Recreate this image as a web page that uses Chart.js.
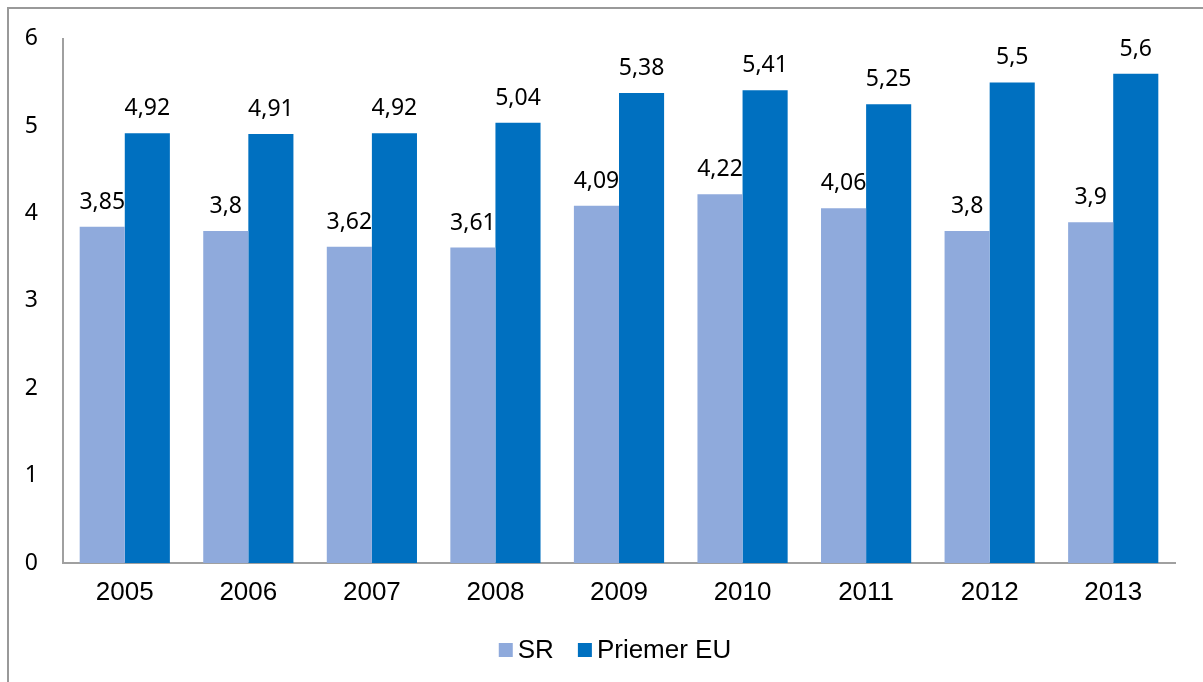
<!DOCTYPE html>
<html>
<head>
<meta charset="utf-8">
<script src="https://cdn.jsdelivr.net/npm/chart.js@4"></script>
<style>
    html, body { margin: 0; padding: 0; background: #fff; }
    #wrap { position: relative; width: 1203px; height: 682px; }
    #frame { position: absolute; left: 7px; top: 7px; right: -2px; bottom: -2px; border-left: 2px solid #999; border-top: 2px solid #999; }
    canvas { position: absolute; left: 0; top: 0; }
</style>
</head>
<body>
<div id="wrap">
    <div id="frame"></div>
    <canvas id="chart" width="1203" height="682"></canvas>
</div>
<script>
// Chart values
const years = ['2005', '2006', '2007', '2008', '2009', '2010', '2011', '2012', '2013'];
const srValues = [3.85, 3.8, 3.62, 3.61, 4.09, 4.22, 4.06, 3.8, 3.9];
const euValues = [4.92, 4.91, 4.92, 5.04, 5.38, 5.41, 5.25, 5.5, 5.6];
const yTicks = [0, 1, 2, 3, 4, 5, 6];

const LEGEND_FONT = '26px "Liberation Sans", Arial, sans-serif';

// Draw value labels above each bar (comma decimal)
const valueLabels = {
    id: 'valueLabels',
    afterDatasetsDraw(chart) {
        const ctx = chart.ctx;
        ctx.save();
        ctx.font = '23px "Noto Sans", sans-serif';
        ctx.fillStyle = '#000';
        ctx.textAlign = 'center';
        ctx.textBaseline = 'alphabetic';
        chart.data.datasets.forEach((ds, i) => {
            chart.getDatasetMeta(i).data.forEach((bar, j) => {
                const txt = String(ds.data[j]).replace('.', ',');
                ctx.fillText(txt, bar.x, bar.y - 18);
            });
        });
        ctx.restore();
    }
};

// Compact legend centred under the chart (small gap between box and text)
const bottomLegend = {
    id: 'bottomLegend',
    afterDraw(chart) {
        const ctx = chart.ctx;
        const box = 14, gap = 5, itemGap = 24;
        const cy = 650;
        ctx.save();
        ctx.font = LEGEND_FONT;
        const items = chart.data.datasets.map(ds => ({
            label: ds.label, color: ds.backgroundColor, w: ctx.measureText(ds.label).width
        }));
        let total = items.reduce((s, it) => s + box + gap + it.w, 0) + itemGap * (items.length - 1);
        let x = 615 - total / 2;
        ctx.textBaseline = 'middle';
        ctx.textAlign = 'left';
        items.forEach(it => {
            ctx.fillStyle = it.color;
            ctx.fillRect(x, cy - box / 2, box, box);
            x += box + gap;
            ctx.fillStyle = '#000';
            ctx.fillText(it.label, x, cy + 1);
            x += it.w + itemGap;
        });
        ctx.restore();
    }
};

new Chart(document.getElementById('chart').getContext('2d'), {
    type: 'bar',
    data: {
        labels: years,
        datasets: [
            { label: 'SR', data: srValues, backgroundColor: '#8FAADC' },
            { label: 'Priemer EU', data: euValues, backgroundColor: '#0070C0' }
        ]
    },
    options: {
        responsive: false,
        animation: false,
        layout: { padding: { top: 38, right: 28, left: 0, bottom: 59 } },
        datasets: { bar: { categoryPercentage: 0.73, barPercentage: 1.0 } },
        plugins: {
            legend: { display: false },
            tooltip: { enabled: false }
        },
        scales: {
            x: {
                grid: { display: false, drawTicks: false },
                border: { display: true, color: '#a0a0a0', width: 2 },
                ticks: {
                    color: '#000',
                    padding: 14,
                    font: { family: '"Liberation Sans", Arial, sans-serif', size: 26 }
                },
                afterFit(scale) { scale.height = 60; }
            },
            y: {
                min: 0,
                max: 6,
                grid: { display: false, drawTicks: false },
                border: { display: true, color: '#a0a0a0', width: 2 },
                afterBuildTicks(scale) { scale.ticks = yTicks.map(v => ({ value: v })); },
                ticks: {
                    color: '#000',
                    padding: 25,
                    font: { family: '"Noto Sans", sans-serif', size: 23 }
                },
                afterFit(scale) { scale.width = 63; }
            }
        }
    },
    plugins: [valueLabels, bottomLegend]
});
</script>
</body>
</html>
